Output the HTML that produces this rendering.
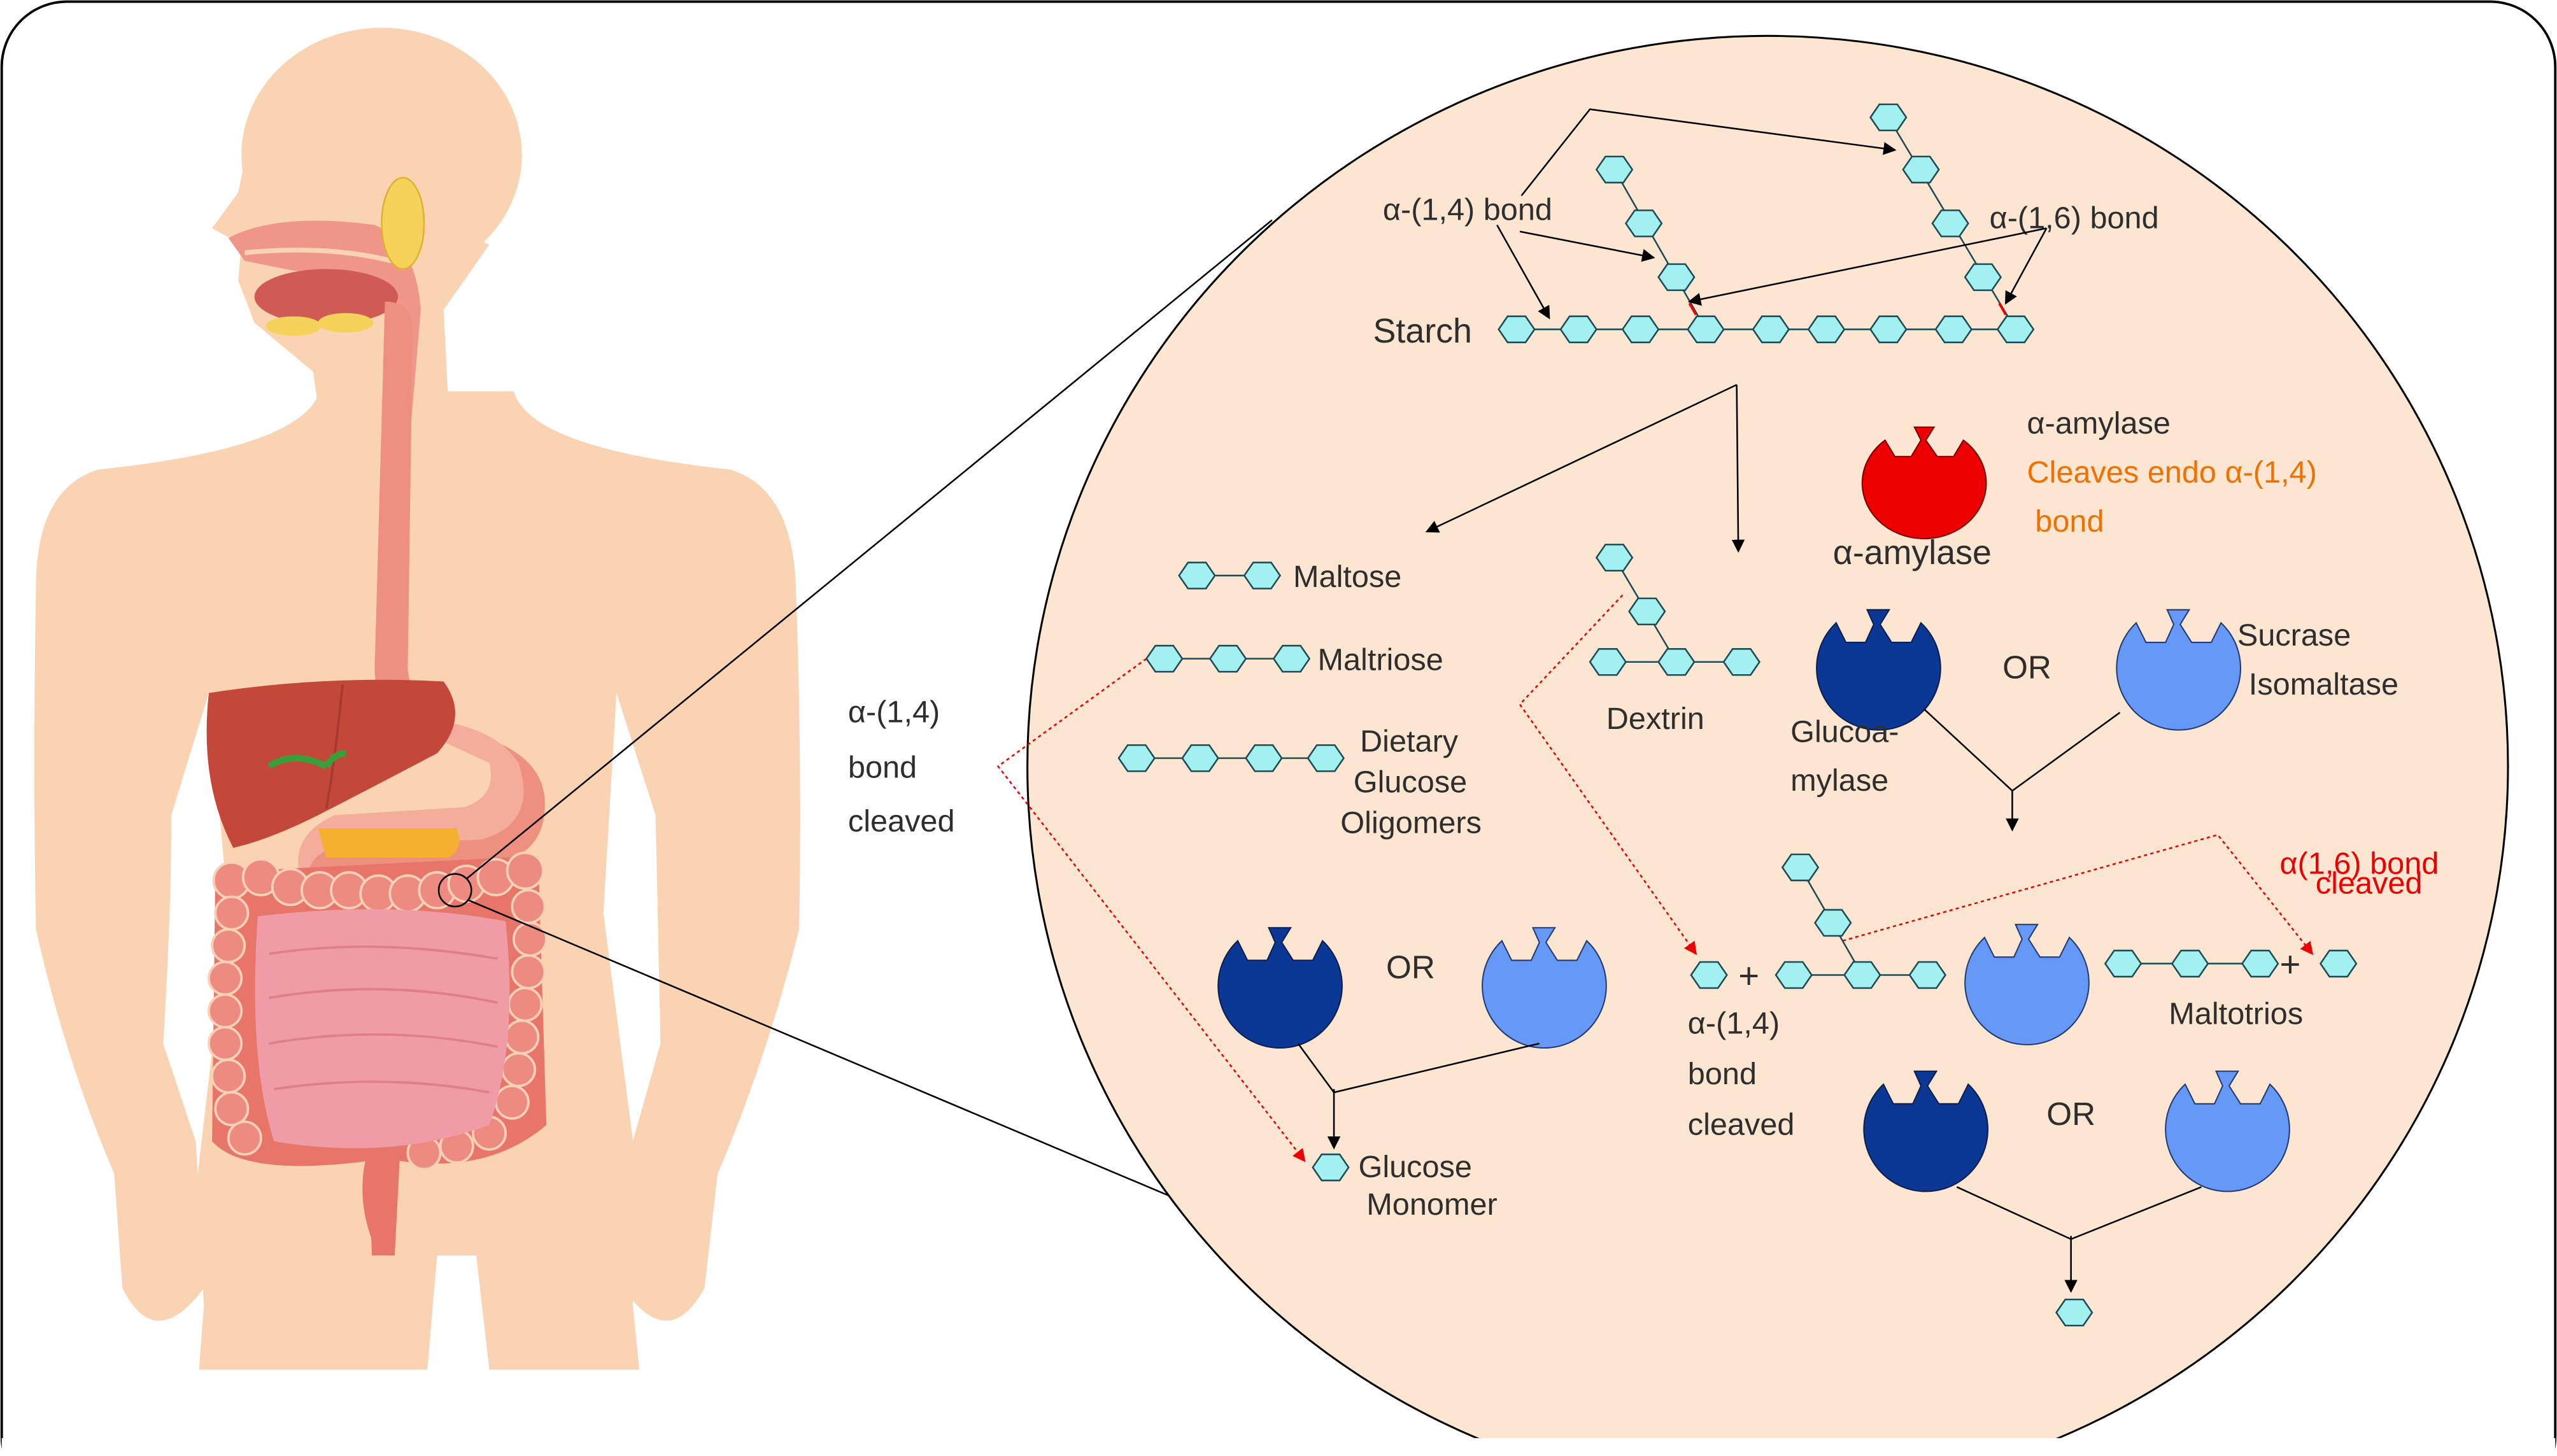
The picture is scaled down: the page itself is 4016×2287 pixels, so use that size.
<!DOCTYPE html>
<html><head><meta charset="utf-8"><style>
html,body{margin:0;padding:0;background:#fff}
svg{display:block}
text{font-family:"Liberation Sans",sans-serif;fill:#2e2e2e}
</style></head><body>
<svg width="4016" height="2287" viewBox="0 0 1568 893" xmlns="http://www.w3.org/2000/svg">
<defs>
<g id="h"><polygon points="-11,0 -5.5,-8 5.5,-8 11,0 5.5,8 -5.5,8" fill="#a3f0f0" stroke="#1d4a55" stroke-width="1"/></g>
<path id="ep" d="M-26,-27 A38,38 0 1,0 26,-27 L20,-15 L8,-15 L1,-26 L6.5,-35 L-7,-35 L-3,-26 L-8,-15 L-20,-15 Z"/>
<g id="ed"><use href="#ep" fill="#0a3894" stroke="#0a1e50" stroke-width="0.8"/></g>
<g id="el"><use href="#ep" fill="#6699f7" stroke="#223a70" stroke-width="0.8"/></g>
<marker id="a" markerWidth="8" markerHeight="8" refX="7" refY="4" orient="auto" markerUnits="userSpaceOnUse"><path d="M0,0 L8,4 L0,8 Z" fill="#000"/></marker>
<marker id="ar" markerWidth="8" markerHeight="8" refX="7" refY="4" orient="auto" markerUnits="userSpaceOnUse"><path d="M0,0 L8,4 L0,8 Z" fill="#e00"/></marker>
</defs>
<rect x="1" y="1" width="1566" height="920" rx="40" fill="#fff" stroke="#000" stroke-width="1.5"/>
<!-- body -->
<g fill="#fad3b3">
<ellipse cx="234" cy="95" rx="86" ry="78"/>
<path d="M152,90 L146,118 L130,140 L148,150 L146,172 L156,198 L192,228 L195,250 L275,250 L272,190 L300,150 Z"/>
<path d="M196,240 Q185,275 60,288 Q22,300 22,360 Q20,470 22,570 Q40,650 70,720 L75,790 Q95,830 125,790 L120,700 L100,640 Q105,560 105,500 L128,425 L140,560 L120,730 L125,800 L122,840 L262,840 L268,770 L292,770 L300,840 L392,840 L388,800 L392,730 L370,560 L378,425 L402,500 L405,640 L388,700 L382,790 Q410,830 432,790 L440,720 Q470,650 490,570 Q492,470 488,360 Q486,300 448,288 Q325,275 315,240 Z"/>
</g>
<!-- head internals -->
<path d="M140,146 Q170,130 230,138 Q255,150 258,190 L252,260 L238,265 L236,190 Q225,168 180,166 L150,160 Z" fill="#ef958a"/>
<ellipse cx="200" cy="182" rx="44" ry="17" fill="#cf5a56"/>
<path d="M150,155 Q200,150 240,160" stroke="#fad3b3" stroke-width="3" fill="none"/>
<ellipse cx="247" cy="137" rx="13" ry="28" fill="#f5d35a" stroke="#e0b030" stroke-width="1"/>
<ellipse cx="180" cy="200" rx="17" ry="6" fill="#f5d35a"/>
<ellipse cx="212" cy="198" rx="17" ry="6" fill="#f5d35a"/>
<!-- esophagus -->
<path d="M236,185 Q252,185 253,200 L250,410 Q252,440 290,450 Q332,462 334,490 Q336,525 300,530 L210,534 Q192,540 196,556 L186,556 Q176,520 210,512 L290,505 Q315,495 305,470 Q280,455 240,445 Q228,430 230,400 Z" fill="#ee9080"/>
<path d="M240,440 Q300,440 318,468 Q330,505 295,515 L212,518 Q185,522 188,548 Q172,515 205,500 L285,495 Q305,488 300,468 Z" fill="#f4ad9c"/>
<!-- liver -->
<path d="M128,425 Q200,414 272,418 Q288,440 268,462 Q230,482 195,500 Q165,515 143,520 Q122,480 128,425 Z" fill="#c4483a"/>
<path d="M210,420 Q205,470 200,496" stroke="#a63a2e" stroke-width="1.5" fill="none"/>
<path d="M165,470 Q180,460 200,470 M200,470 Q205,462 212,462" stroke="#3a9e3a" stroke-width="4" fill="none"/>
<path d="M195,508 L280,508 Q285,520 275,526 L200,526 Z" fill="#f6b030"/>
<!-- intestines -->
<path d="M132,535 L330,525 L335,690 Q300,720 245,712 L242,770 L228,770 L226,712 Q150,722 130,700 Z" fill="#e8756a"/>
<g fill="#ee8b80" stroke="#f7d0b8" stroke-width="1.5">
<circle cx="142" cy="540" r="11"/><circle cx="160" cy="538" r="11"/><circle cx="178" cy="544" r="11"/><circle cx="196" cy="546" r="11"/><circle cx="214" cy="546" r="11"/><circle cx="232" cy="548" r="11"/><circle cx="250" cy="548" r="11"/><circle cx="268" cy="546" r="11"/><circle cx="286" cy="542" r="11"/><circle cx="304" cy="538" r="11"/><circle cx="322" cy="534" r="11"/>
<circle cx="142" cy="560" r="10"/><circle cx="140" cy="580" r="10"/><circle cx="138" cy="600" r="10"/><circle cx="138" cy="620" r="10"/><circle cx="138" cy="640" r="10"/><circle cx="140" cy="660" r="10"/><circle cx="142" cy="680" r="10"/><circle cx="150" cy="698" r="10"/>
<circle cx="324" cy="556" r="10"/><circle cx="325" cy="576" r="10"/><circle cx="324" cy="596" r="10"/><circle cx="322" cy="616" r="10"/><circle cx="320" cy="636" r="10"/><circle cx="318" cy="656" r="10"/><circle cx="314" cy="676" r="10"/><circle cx="300" cy="695" r="10"/><circle cx="280" cy="703" r="10"/><circle cx="260" cy="707" r="10"/>
</g>
<path d="M158,562 Q240,552 310,565 Q318,640 300,690 Q240,712 168,700 Q152,650 158,562 Z" fill="#f09ca6"/>
<g fill="none" stroke="#e07f8c" stroke-width="1.5">
<path d="M165,585 Q230,575 305,588"/><path d="M165,612 Q235,600 305,615"/><path d="M165,640 Q235,628 305,642"/><path d="M168,668 Q235,658 300,670"/>
</g>
<path d="M224,712 Q218,740 232,770 Q246,740 240,712 Z" fill="#e8756a"/>
<circle cx="279" cy="546" r="10" fill="none" stroke="#000" stroke-width="1"/>
<!-- zoom lines -->
<line x1="286" y1="539" x2="780" y2="135" stroke="#000" stroke-width="1"/>
<line x1="287" y1="552" x2="780" y2="760" stroke="#000" stroke-width="1"/>
<ellipse cx="1084" cy="470" rx="454" ry="448" fill="#fce6d2" stroke="#000" stroke-width="1.2"/>
<rect x="1" y="882" width="1566" height="11" fill="#fff"/>
<!-- starch -->
<g stroke="#1d4a55" stroke-width="1">
<line x1="930" y1="202" x2="1236" y2="202"/>
<line x1="990" y1="104" x2="1046" y2="202"/>
<line x1="1158" y1="72" x2="1236" y2="202"/>
</g>
<line x1="1036" y1="186" x2="1040" y2="193" stroke="#e00" stroke-width="1.5"/>
<line x1="1226" y1="186" x2="1230" y2="193" stroke="#e00" stroke-width="1.5"/>
<g>
<use href="#h" x="930" y="202"/><use href="#h" x="968" y="202"/><use href="#h" x="1006" y="202"/><use href="#h" x="1046" y="202"/><use href="#h" x="1086" y="202"/><use href="#h" x="1120" y="202"/><use href="#h" x="1158" y="202"/><use href="#h" x="1198" y="202"/><use href="#h" x="1236" y="202"/>
<use href="#h" x="1028" y="170"/><use href="#h" x="1008" y="137"/><use href="#h" x="990" y="104"/>
<use href="#h" x="1216" y="170"/><use href="#h" x="1196" y="137"/><use href="#h" x="1178" y="104"/><use href="#h" x="1158" y="72"/>
</g>
<text x="848" y="135" font-size="19">α-(1,4) bond</text>
<text x="1220" y="140" font-size="19">α-(1,6) bond</text>
<text x="842" y="210" font-size="21">Starch</text>
<g stroke="#000" stroke-width="1" fill="none" marker-end="url(#a)">
<polyline points="933,120 975,67 1162,92"/>
<line x1="918" y1="138" x2="950" y2="195"/>
<line x1="932" y1="142" x2="1014" y2="158"/>
<line x1="1255" y1="140" x2="1036" y2="185"/>
<line x1="1255" y1="140" x2="1230" y2="186"/>
<line x1="1065" y1="236" x2="875" y2="326"/>
<line x1="1065" y1="236" x2="1066" y2="338"/>
</g>
<!-- amylase -->
<g transform="translate(1180,292)"><path d="M-24,-22 A38,34 0 1,0 24,-22 L18,-12 L8,-12 L1,-22 L6,-30 L-6,-30 L-2,-22 L-8,-12 L-18,-12 Z" fill="#ee0000" stroke="#700" stroke-width="0.8"/></g>
<text x="1243" y="266" font-size="19">α-amylase</text>
<text x="1243" y="296" font-size="19" style="fill:#f07000">Cleaves endo α-(1,4)</text>
<text x="1248" y="326" font-size="19" style="fill:#f07000">bond</text>
<text x="1124" y="346" font-size="21">α-amylase</text>
<!-- maltose etc -->
<line x1="734" y1="353" x2="774" y2="353" stroke="#1d4a55"/>
<use href="#h" x="734" y="353"/><use href="#h" x="774" y="353"/>
<text x="793" y="360" font-size="19">Maltose</text>
<line x1="714" y1="404" x2="792" y2="404" stroke="#1d4a55"/>
<use href="#h" x="714" y="404"/><use href="#h" x="753" y="404"/><use href="#h" x="792" y="404"/>
<text x="808" y="411" font-size="19">Maltriose</text>
<line x1="697" y1="465" x2="813" y2="465" stroke="#1d4a55"/>
<use href="#h" x="697" y="465"/><use href="#h" x="736" y="465"/><use href="#h" x="775" y="465"/><use href="#h" x="813" y="465"/>
<text x="834" y="461" font-size="19">Dietary</text>
<text x="830" y="486" font-size="19">Glucose</text>
<text x="822" y="511" font-size="19">Oligomers</text>
<text x="520" y="443" font-size="19">α-(1,4)</text>
<text x="520" y="477" font-size="19">bond</text>
<text x="520" y="510" font-size="19">cleaved</text>
<!-- dextrin -->
<g stroke="#1d4a55"><line x1="990" y1="342" x2="1028" y2="406"/><line x1="986" y1="406" x2="1068" y2="406"/></g>
<use href="#h" x="990" y="342"/><use href="#h" x="1010" y="375"/><use href="#h" x="986" y="406"/><use href="#h" x="1028" y="406"/><use href="#h" x="1068" y="406"/>
<text x="985" y="447" font-size="19">Dextrin</text>
<!-- enzymes row 1 -->
<use href="#ed" x="1152" y="409"/>
<text x="1228" y="416" font-size="20">OR</text>
<use href="#el" x="1336" y="409"/>
<text x="1372" y="396" font-size="19">Sucrase</text>
<text x="1379" y="426" font-size="19">Isomaltase</text>
<text x="1098" y="455" font-size="19">Glucoa-</text>
<text x="1098" y="485" font-size="19">mylase</text>
<polyline points="1180,435 1234,485 1300,437" fill="none" stroke="#000"/>
<line x1="1234" y1="485" x2="1234" y2="509" stroke="#000" marker-end="url(#a)"/>
<!-- enzymes row 2 left -->
<use href="#ed" x="785" y="604"/>
<text x="850" y="600" font-size="20">OR</text>
<use href="#el" x="947" y="604"/>
<polyline points="796,640 818,670 944,640" fill="none" stroke="#000"/>
<line x1="818" y1="668" x2="818" y2="704" stroke="#000" marker-end="url(#a)"/>
<use href="#h" x="816" y="716"/>
<text x="833" y="722" font-size="19">Glucose</text>
<text x="838" y="745" font-size="19">Monomer</text>
<!-- red dotted -->
<g stroke="#e00" stroke-width="1" stroke-dasharray="2,2" fill="none" marker-end="url(#ar)">
<polyline points="703,404 612,470 800,712"/>
<polyline points="995,365 932,432 1040,585"/>
<polyline points="1130,577 1360,512 1418,585"/>
</g>
<text x="1398" y="536" font-size="19" style="fill:#e00">α(1,6) bond</text>
<text x="1420" y="548" font-size="19" style="fill:#e00">cleaved</text>
<!-- middle product -->
<use href="#h" x="1048" y="598"/>
<text x="1066" y="606" font-size="22">+</text>
<g stroke="#1d4a55"><line x1="1104" y1="532" x2="1142" y2="598"/><line x1="1100" y1="598" x2="1182" y2="598"/></g>
<use href="#h" x="1104" y="532"/><use href="#h" x="1124" y="566"/><use href="#h" x="1100" y="598"/><use href="#h" x="1142" y="598"/><use href="#h" x="1182" y="598"/>
<use href="#el" x="1243" y="602"/>
<line x1="1302" y1="591" x2="1386" y2="591" stroke="#1d4a55"/>
<use href="#h" x="1302" y="591"/><use href="#h" x="1343" y="591"/><use href="#h" x="1386" y="591"/>
<text x="1398" y="599" font-size="22">+</text>
<use href="#h" x="1434" y="591"/>
<text x="1330" y="628" font-size="19">Maltotrios</text>
<text x="1035" y="634" font-size="19">α-(1,4)</text>
<text x="1035" y="665" font-size="19">bond</text>
<text x="1035" y="696" font-size="19">cleaved</text>
<!-- row 3 -->
<use href="#ed" x="1181" y="692"/>
<text x="1255" y="690" font-size="20">OR</text>
<use href="#el" x="1366" y="692"/>
<polyline points="1200,728 1270,760 1350,728" fill="none" stroke="#000"/>
<line x1="1270" y1="758" x2="1270" y2="792" stroke="#000" marker-end="url(#a)"/>
<use href="#h" x="1272" y="805"/>
</svg>
</body></html>
